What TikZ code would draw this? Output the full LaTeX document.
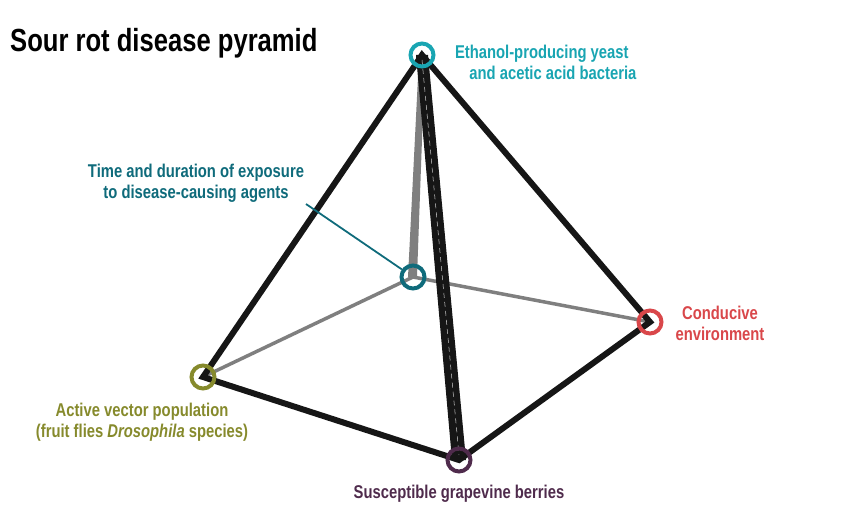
\documentclass[tikz,border=0pt]{standalone}
\usepackage{fontspec}
\setmainfont{Liberation Sans}[FakeStretch=0.8]
\definecolor{cA}{HTML}{19A5B2}
\definecolor{cT}{HTML}{0F6B7B}
\definecolor{cR}{HTML}{D9474A}
\definecolor{cO}{HTML}{868A2C}
\definecolor{cP}{HTML}{4F2B4C}
\definecolor{gr}{HTML}{7F7F7F}
\definecolor{bk}{HTML}{161616}
\begin{document}
\begin{tikzpicture}[x=1pt,y=-1pt,
 ring/.style={circle,draw=#1,line width=4pt,minimum size=23pt,inner sep=0pt},
 lab/.style={font=\bfseries\fontsize{18.5}{21}\selectfont,text=#1,align=center,inner sep=0pt},
 edge/.style={bk,line width=6pt},
 back/.style={gr,line width=3.5pt}]
\useasboundingbox (0,0) rectangle (860,513);
\coordinate (A) at (422,55);
\coordinate (C) at (413,277);
\coordinate (R) at (650,322);
\coordinate (L) at (203,377);
\coordinate (B) at (459,460);
% back edges
\draw[back] (C) -- (L);
\draw[back] (C) -- (R);
\fill[gr] (419,57) -- (425,57) -- (417,277) -- (408,277) -- cycle;
% front edges
\draw[edge] (A) -- (L) -- (B) -- (R) -- cycle;
\fill[bk] (416,55) -- (428,55) -- (466,460) -- (452,460) -- cycle;
\draw[white!60!gray,line width=0.5pt,dash pattern=on 5pt off 4pt] (422,60) -- (459,455);
% rings
\node[ring=cA] (nA) at (A) {};
\node[ring=cT] (nC) at (C) {};
\node[ring=cR] (nR) at (R) {};
\node[ring=cO] (nL) at (L) {};
\node[ring=cP] (nB) at (B) {};
% labels
\node[anchor=west,font=\bfseries\fontsize{32}{36}\selectfont,inner sep=0pt] (title) at (10,43) {Sour rot disease pyramid};
\node[lab=cA,anchor=north west] (tA) at (447,45) {Ethanol-producing yeast\\\hspace*{1.2em}and acetic acid bacteria};
\node[lab=cT] (tC) at (196,183) {Time and duration of exposure\\to disease-causing agents};
\draw[cT,line width=1.8pt] (306,204) -- (nC);
\node[lab=cR] (tR) at (720,323) {Conducive\\environment};
\node[lab=cO] (tL) at (142,422) {Active vector population\\(fruit flies \textit{Drosophila} species)};
\node[lab=cP] (tB) at (459,494) {Susceptible grapevine berries};
\end{tikzpicture}
\end{document}
